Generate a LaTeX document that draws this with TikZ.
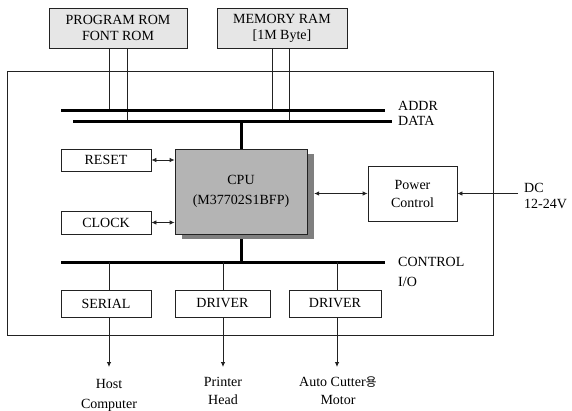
\documentclass[tikz,border=0pt]{standalone}
\usepackage{fontspec}
\setmainfont{Liberation Serif}
\newfontfamily\krfont{Noto Sans CJK KR}
\usetikzlibrary{arrows.meta}
\definecolor{linec}{HTML}{222222}
\definecolor{romfill}{HTML}{E6E6E6}
\definecolor{cpufill}{HTML}{B4B4B4}
\definecolor{shadowc}{HTML}{7F7F7F}
\begin{document}
\begin{tikzpicture}[x=1pt,y=-1pt,
  txt/.style={font=\fontsize{14}{16}\selectfont, inner sep=0pt, align=center, text=black},
  box/.style={txt, draw=linec, line width=0.8pt, fill=white},
  rombox/.style={box, fill=romfill},
  thin/.style={draw=linec, line width=0.8pt},
  bus/.style={draw=black, line width=3pt},
  tip/.style={-{Latex[length=5pt,width=4.5pt]}},
  btip/.style={{Latex[length=5pt,width=4.5pt]}-{Latex[length=5pt,width=4.5pt]}}
]
\useasboundingbox (0,0) rectangle (572,410);
% outer frame
\draw[thin] (7,71) rectangle (493,335);
% top boxes
\node[rombox, minimum width=138pt, minimum height=40pt] (rom) at (118,28) {PROGRAM ROM\\FONT ROM};
\node[rombox, minimum width=130pt, minimum height=40pt] (ram) at (282,28) {MEMORY RAM\\{[}1M Byte{]}};
% buses
\coordinate (addrL) at (61,110); \coordinate (addrR) at (385,110);
\coordinate (dataL) at (73,121); \coordinate (dataR) at (392,121);
\coordinate (ctrlL) at (61,262); \coordinate (ctrlR) at (385,262);
% rom/ram lines
\draw[thin] (rom.south -| 109,0) -- (addrL -| 109,0);
\draw[thin] (rom.south -| 127,0) -- (dataL -| 127,0);
\draw[thin] (ram.south -| 272,0) -- (addrL -| 272,0);
\draw[thin] (ram.south -| 289,0) -- (dataL -| 289,0);
\draw[bus] (addrL) -- (addrR);
\draw[bus] (dataL) -- (dataR);
\node[txt, anchor=west] (addr) at (398,106) {ADDR};
\node[txt, anchor=west] (data) at (398,121) {DATA};
% CPU
\node[draw=none, fill=shadowc, minimum width=132pt, minimum height=85pt, inner sep=0pt] (cpushadow) at (248,196.5) {};
\node[box, fill=cpufill, minimum width=132pt, minimum height=85pt] (cpu) at (241,191.5) {CPU\\[4pt](M37702S1BFP)};
\draw[bus] (dataL -| cpu.north) -- (cpu.north);
\draw[bus] (cpushadow.south -| cpu.south) -- (ctrlL -| cpu.south);
\draw[bus] (ctrlL) -- (ctrlR);
\node[txt, anchor=west] (control) at (398,262) {CONTROL};
\node[txt, anchor=west] (io) at (398,282) {I/O};
% reset clock
\node[box, minimum width=90pt, minimum height=22pt] (reset) at (106,160) {RESET};
\node[box, minimum width=90pt, minimum height=23pt] (clock) at (106,222.5) {CLOCK};
\draw[thin, btip] (reset.east) -- (reset.east -| cpu.west);
\draw[thin, btip] (clock.east) -- (clock.east -| cpu.west);
% power
\node[box, minimum width=89pt, minimum height=55pt] (power) at (412.5,193.5) {Power\\[2pt]Control};
\draw[thin, btip] (power.west -| cpushadow.east) -- (power.west);
\coordinate (dcin) at (518,193.5);
\draw[thin, tip] (dcin) -- (power.east);
\node[txt, anchor=west, align=left] (dc) at (524,195.5) {DC\\12-24V};
% io boxes
\node[box, minimum width=90pt, minimum height=27pt] (serial) at (106,303.5) {SERIAL};
\node[box, minimum width=95pt, minimum height=27pt] (drv1) at (222.5,303.5) {DRIVER};
\node[box, minimum width=92pt, minimum height=27pt] (drv2) at (335,303.5) {DRIVER};
\draw[thin] (ctrlL -| 109,0) -- (serial.north -| 109,0);
\draw[thin] (ctrlL -| 223,0) -- (drv1.north -| 223,0);
\draw[thin] (ctrlL -| 337,0) -- (drv2.north -| 337,0);
% outputs
\node[txt] (host) at (109,395) {Host\\[4pt]Computer};
\node[txt] (head) at (223,391) {Printer\\[2pt]Head};
\node[txt] (motor) at (338,391) {Auto Cutter{\krfont\fontsize{12}{14}\selectfont 용}\\[2pt]Motor};
\draw[thin, tip] (serial.south -| 109,0) -- (109,367);
\draw[thin, tip] (drv1.south -| 223,0) -- (223,367);
\draw[thin, tip] (drv2.south -| 337,0) -- (337,367);
\end{tikzpicture}
\end{document}
